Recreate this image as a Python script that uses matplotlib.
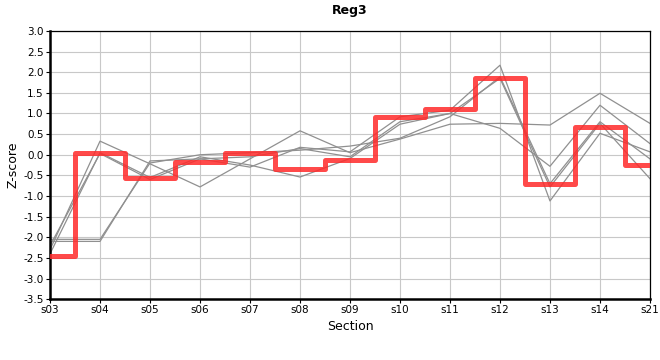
import numpy as np
import matplotlib
matplotlib.use('Agg')
import matplotlib.pyplot as plt

sections = ['s03', 's04', 's05', 's06', 's07', 's08', 's09',
            's10', 's11', 's12', 's13', 's14', 's21']

# highlighted series (drawn as steps)
reg3 = [-2.46, 0.04, -0.56, -0.17, 0.05, -0.35, -0.13,
        0.91, 1.12, 1.85, -0.72, 0.68, -0.24]

# background series
grey1 = [-2.30, 0.33, -0.22, -0.78, -0.10, 0.58, 0.05, 0.38, 0.74, 0.76, 0.72, 1.49, 0.76]
grey2 = [-2.40, 0.05, -0.55, -0.05, -0.25, -0.54, -0.09, 0.74, 1.00, 0.64, -0.28, 1.20, 0.27]
grey3 = [-2.20, 0.03, -0.60, -0.10, -0.30, 0.18, 0.07, 0.92, 1.08, 2.17, -1.12, 0.52, 0.07]
grey4 = [-2.05, -2.05, -0.20, 0.00, 0.05, 0.11, 0.21, 0.40, 0.92, 1.89, -0.70, 0.80, -0.10]
grey5 = [-2.10, -2.10, -0.15, -0.10, -0.05, 0.15, -0.05, 0.80, 1.00, 1.85, -0.78, 0.76, -0.58]

x = np.arange(len(sections))

fig = plt.figure(figsize=(6.6, 3.6), dpi=100)
ax = fig.add_axes([0.0758, 0.169, 0.909, 0.745])

for g in [grey1, grey2, grey3, grey4, grey5]:
    ax.plot(x, g, color='#909090', lw=0.9, zorder=2)

ax.plot(x, reg3, drawstyle='steps-mid', color='#ff2a2a', alpha=0.85,
        lw=3.6, solid_joinstyle='round', solid_capstyle='round', zorder=3)

ax.set_xlim(0, len(sections) - 1)
ax.set_ylim(-3.5, 3.0)
ax.set_xticks(x)
ax.set_xticklabels(sections)
ax.set_yticks(np.arange(-3.5, 3.01, 0.5))
ax.set_yticklabels(['%.1f' % v for v in np.arange(-3.5, 3.01, 0.5)])
ax.tick_params(labelsize=7.5, length=3, width=0.8, pad=1.5)
ax.grid(True, color='#c8c8c8', lw=0.8, zorder=0)
ax.set_axisbelow(True)

for s in ['left', 'bottom']:
    ax.spines[s].set_linewidth(1.8)
for s in ['top', 'right']:
    ax.spines[s].set_linewidth(0.9)

ax.set_title('Reg3', fontsize=9, fontweight='bold', pad=12)
ax.set_xlabel('Section', fontsize=9, labelpad=3)
ax.set_ylabel('Z-score', fontsize=9, labelpad=3)

fig.savefig('out.png', dpi=100)
